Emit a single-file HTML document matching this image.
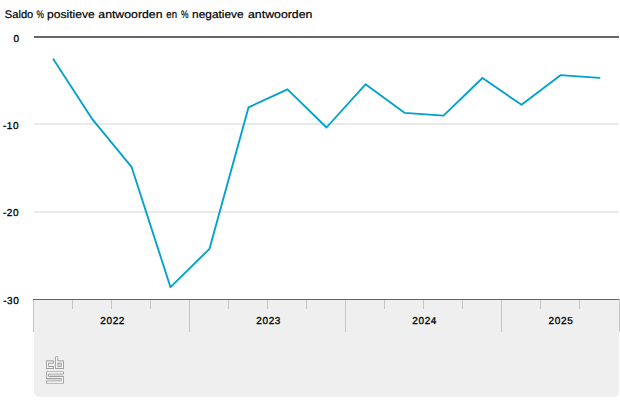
<!DOCTYPE html>
<html>
<head>
<meta charset="utf-8">
<style>
html,body{margin:0;padding:0;background:#fff;}
body{width:620px;height:413px;overflow:hidden;position:relative;font-family:"Liberation Sans",sans-serif;}
svg{position:absolute;left:0;top:0;display:block;}
text{font-family:"Liberation Sans",sans-serif;text-rendering:geometricPrecision;}
</style>
</head>
<body>
<svg width="620" height="413" viewBox="0 0 620 413">
  <rect x="0" y="0" width="620" height="413" fill="#ffffff"/>
  <!-- title -->
  <g id="title" font-size="11px" fill="#000" stroke="#000" stroke-width="0.2">
    <text x="4.8" y="17.5" textLength="28.5" lengthAdjust="spacingAndGlyphs">Saldo</text>
    <text x="36.4" y="17.5" textLength="7.5" lengthAdjust="spacingAndGlyphs">%</text>
    <text x="47.0" y="17.5" textLength="47.7" lengthAdjust="spacingAndGlyphs">positieve</text>
    <text x="98.3" y="17.5" textLength="64.2" lengthAdjust="spacingAndGlyphs">antwoorden</text>
    <text x="166.3" y="17.5" textLength="10.7" lengthAdjust="spacingAndGlyphs">en</text>
    <text x="181.1" y="17.5" textLength="7.5" lengthAdjust="spacingAndGlyphs">%</text>
    <text x="192.1" y="17.5" textLength="51.5" lengthAdjust="spacingAndGlyphs">negatieve</text>
    <text x="248.0" y="17.5" textLength="64.4" lengthAdjust="spacingAndGlyphs">antwoorden</text>
  </g>

  <!-- bottom panel -->
  <path d="M34 299 H619 V391.5 A5.5 5.5 0 0 1 613.5 397 H39.5 A5.5 5.5 0 0 1 34 391.5 Z" fill="#efefef"/>

  <!-- gridlines -->
  <rect x="34" y="123" width="585" height="2" fill="#e9e9e9"/>
  <rect x="34" y="211" width="585" height="2" fill="#e9e9e9"/>
  <!-- zero line -->
  <rect x="34" y="36" width="585" height="2" fill="#666666"/>

  <!-- ticks -->
  <g fill="#c4c4c4">
    <rect x="33" y="300" width="1" height="32"/>
    <rect x="189" y="300" width="1" height="32"/>
    <rect x="345" y="300" width="1" height="32"/>
    <rect x="501" y="300" width="1" height="32"/>
    <rect x="619" y="299" width="1" height="33"/>
    <rect x="72" y="300" width="1" height="9"/>
    <rect x="111" y="300" width="1" height="9"/>
    <rect x="150" y="300" width="1" height="9"/>
    <rect x="228" y="300" width="1" height="9"/>
    <rect x="267" y="300" width="1" height="9"/>
    <rect x="306" y="300" width="1" height="9"/>
    <rect x="384" y="300" width="1" height="9"/>
    <rect x="423" y="300" width="1" height="9"/>
    <rect x="462" y="300" width="1" height="9"/>
    <rect x="540" y="300" width="1" height="9"/>
    <rect x="579" y="300" width="1" height="9"/>
  </g>
  <!-- axis line -->
  <rect x="33" y="299" width="586" height="1" fill="#666666"/>

  <!-- y labels -->
  <g font-size="10px" fill="#000" stroke="#000" stroke-width="0.3">
    <text x="13.4" y="41.6" textLength="5" lengthAdjust="spacing">0</text>
    <text x="2.9" y="129" textLength="15.6" lengthAdjust="spacing">-10</text>
    <text x="2.9" y="216" textLength="15.6" lengthAdjust="spacing">-20</text>
    <text x="3.3" y="303.7" textLength="15.4" lengthAdjust="spacing">-30</text>
  </g>
  <!-- x labels -->
  <g font-size="10px" fill="#000" stroke="#000" stroke-width="0.3">
    <text x="100.2" y="324" textLength="24.2" lengthAdjust="spacing">2022</text>
    <text x="256.2" y="324" textLength="24.2" lengthAdjust="spacing">2023</text>
    <text x="412.2" y="324" textLength="24.2" lengthAdjust="spacing">2024</text>
    <text x="548.6" y="324" textLength="24.2" lengthAdjust="spacing">2025</text>
  </g>

  <!-- data line -->
  <polyline fill="none" stroke="#00a1cd" stroke-width="1.85" stroke-linejoin="round" stroke-linecap="round"
    points="53.4,59.3 92.5,119.4 131.5,166.8 170.5,287.2 209.5,248.8 248.5,107.4 287.5,89.3 326.5,127.5 365.5,84.3 404.5,112.8 443.5,115.6 482.5,78 521.5,104.8 560.5,75.2 599.5,77.9"/>

  <!-- cbs logo -->
  <rect x="47" y="372" width="16" height="11" fill="#dadada"/>
  <rect x="57" y="362" width="5" height="5.5" fill="#dadada"/>
  <g fill="none" stroke-linecap="square" stroke-linejoin="miter">
    <g stroke="#858585" stroke-width="2.9">
      <path d="M52.35 361.95 H47.55 V367.55 H52.35"/>
      <path d="M56.75 357.85 V367.55 H62.35 V361.95 H56.75"/>
      <path d="M62.35 372.85 H47.55 V377.5 H62.35 V382.15 H47.55"/>
    </g>
    <g stroke="#f1f1f1" stroke-width="1.6">
      <path d="M52.35 361.95 H47.55 V367.55 H52.35"/>
      <path d="M56.75 357.85 V367.55 H62.35 V361.95 H56.75"/>
      <path d="M62.35 372.85 H47.55 V377.5 H62.35 V382.15 H47.55"/>
    </g>
  </g>
</svg>
</body>
</html>
